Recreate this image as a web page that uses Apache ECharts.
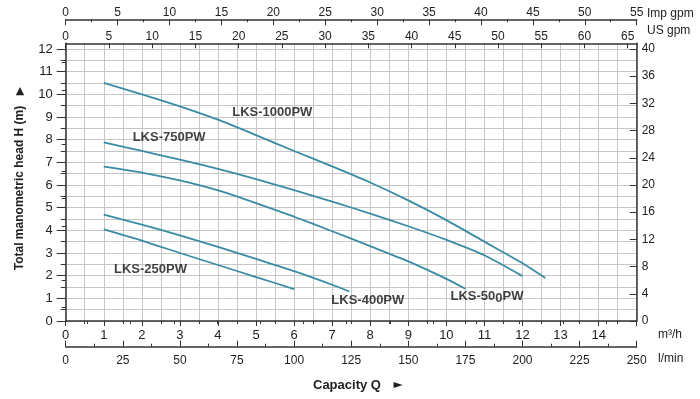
<!DOCTYPE html>
<html>
<head>
<meta charset="utf-8">
<script src="https://cdn.jsdelivr.net/npm/echarts@6/dist/echarts.min.js"></script>
<style>
html,body{margin:0;padding:0;background:#ffffff;}
#chart{width:700px;height:399px;}
</style>
</head>
<body>
<div id="chart"></div>
<script>
// ---- data (flow Q in m3/h, head H in m) ----
const q1000 = [1, 2, 3, 4, 5, 6, 7, 8, 9, 10, 11, 12, 12.6];
const h1000 = [10.5, 10.0, 9.47, 8.88, 8.2, 7.5, 6.82, 6.11, 5.32, 4.45, 3.5, 2.55, 1.9];
const q750 = [1, 2, 3, 4, 5, 6, 7, 8, 9, 10, 11, 12];
const h750 = [7.88, 7.5, 7.12, 6.71, 6.26, 5.77, 5.27, 4.74, 4.18, 3.58, 2.9, 1.98];
const q500 = [1, 2, 3, 4, 5, 6, 7, 8, 9, 10, 10.5];
const h500 = [6.81, 6.55, 6.2, 5.76, 5.2, 4.6, 3.96, 3.3, 2.63, 1.86, 1.42];
const q400 = [1, 2, 3, 4, 5, 6, 7, 7.45];
const h400 = [4.69, 4.25, 3.78, 3.27, 2.74, 2.2, 1.6, 1.3];
const q250 = [1, 2, 3, 4, 5, 6];
const h250 = [4.04, 3.55, 3.0, 2.47, 1.94, 1.41];

const curveNames = ['LKS-1000PW', 'LKS-750PW', 'LKS-500PW', 'LKS-400PW', 'LKS-250PW'];
// label anchors in data coordinates (m3/h, m)
const labelQ = [5.44, 2.73, 11.08, 7.95, 2.24];
const labelH = [9.18, 8.09, 1.0, 0.9, 2.25];

// axis tick labels
const headTicks = [0,1,2,3,4,5,6,7,8,9,10,11,12];
const headMinor = [0.5,1.5,2.5,3.5,4.5,5.5,6.5,7.5,8.5,9.5,10.5,11.5];
const feetTicks = [0,4,8,12,16,20,24,28,32,36,40];
const feetMinor = [2,6,10,14,18,22,26,30,34,38];
const usTicks = [0,5,10,15,20,25,30,35,40,45,50,55,60,65];
const usMinor = [2.5,7.5,12.5,17.5,22.5,27.5,32.5,37.5,42.5,47.5,52.5,57.5,62.5];

const FONT = 'Liberation Sans, Arial, sans-serif';
const LINE = '#3a8ca6';
const GRID = '#c6c6c6';
const AX = '#333333';
const TXT = '#222222';
const LBL = '#111111';

const pairs = (q, h) => q.map((x, i) => [x, h[i]]);
const curves = [[q1000,h1000],[q750,h750],[q500,h500],[q400,h400],[q250,h250]];

const chart = echarts.init(document.getElementById('chart'), null, {renderer:'canvas'});

const axLine = {show:true, onZero:false, lineStyle:{color:AX, width:1.5}};

const option = {
  backgroundColor:'#ffffff',
  animation:false,
  grid:{left:65.7, right:63.3, top:43.3, bottom:78},
  xAxis:[
    { // m3/h
      type:'value', position:'bottom', min:0, max:15, interval:1,
      axisLine:axLine,
      axisTick:{show:true, length:5, lineStyle:{color:AX}},
      minorTick:{show:true, splitNumber:2, length:3, lineStyle:{color:AX}},
      axisLabel:{margin:8, fontSize:13, color:TXT, fontFamily:FONT, showMaxLabel:false},
      splitLine:{show:true, lineStyle:{color:GRID, width:1}},
      minorSplitLine:{show:true, lineStyle:{color:GRID, width:1}}
    },
    { // l/min
      type:'value', position:'bottom', offset:25.7, min:0, max:250, interval:25,
      axisLine:axLine,
      axisTick:{show:true, inside:true, length:6, lineStyle:{color:AX}},
      minorTick:{show:true, splitNumber:2, length:3, lineStyle:{color:AX}},
      axisLabel:{margin:8, fontSize:12, color:TXT, fontFamily:FONT},
      splitLine:{show:false}
    },
    { // US gpm
      type:'value', position:'top', min:0, max:66.04, interval:5,
      axisLine:axLine,
      axisTick:{show:true, inside:true, length:5, customValues:usTicks, lineStyle:{color:AX}},
      axisLabel:{margin:1, fontSize:12, color:TXT, fontFamily:FONT, customValues:usTicks},
      splitLine:{show:false}
    },
    { // US gpm minor ticks
      type:'value', position:'top', min:0, max:66.04,
      axisLine:{show:false},
      axisTick:{show:true, inside:true, length:3, customValues:usMinor, lineStyle:{color:AX}},
      axisLabel:{show:false},
      splitLine:{show:false}
    },
    { // Imp gpm
      type:'value', position:'top', offset:24, min:0, max:55, interval:5,
      axisLine:axLine,
      axisTick:{show:true, inside:true, length:6, lineStyle:{color:AX}},
      minorTick:{show:true, splitNumber:2, length:3, lineStyle:{color:AX}},
      axisLabel:{margin:1, fontSize:12, color:TXT, fontFamily:FONT},
      splitLine:{show:false}
    }
  ],
  yAxis:[
    { // head m
      type:'value', position:'left', min:0, max:12.25, interval:1,
      axisLine:axLine,
      axisTick:{show:true, length:9, customValues:headTicks, lineStyle:{color:AX}},
      axisLabel:{margin:13, fontSize:13, color:TXT, fontFamily:FONT, customValues:headTicks},
      splitLine:{show:true, lineStyle:{color:GRID, width:1}}
    },
    { // head minor ticks + half gridlines
      type:'value', position:'left', min:0, max:12.25,
      axisLine:{show:false},
      axisTick:{show:true, length:5, customValues:headMinor, lineStyle:{color:AX}},
      axisLabel:{show:false},
      splitLine:{show:true, lineStyle:{color:GRID, width:1}}
    },
    { // feet
      type:'value', position:'right', min:0, max:40*12.25/12, interval:4,
      axisLine:axLine,
      axisTick:{show:true, inside:true, length:7, customValues:feetTicks, lineStyle:{color:AX}},
      axisLabel:{margin:5, fontSize:12, color:TXT, fontFamily:FONT, customValues:feetTicks},
      splitLine:{show:false}
    },
    { // feet minor
      type:'value', position:'right', min:0, max:40*12.25/12,
      axisLine:{show:false},
      axisTick:{show:true, inside:true, length:4, customValues:feetMinor, lineStyle:{color:AX}},
      axisLabel:{show:false},
      splitLine:{show:false}
    }
  ],
  series: curves.map((c, i) => ({
    name: curveNames[i], type:'line', xAxisIndex:0, yAxisIndex:0,
    data: pairs(c[0], c[1]), showSymbol:false, smooth:0.2,
    lineStyle:{color:LINE, width:1.8}, z:3
  })).concat([{
    type:'scatter', xAxisIndex:0, yAxisIndex:0, symbolSize:1, silent:true,
    itemStyle:{color:'rgba(255,255,255,0)'},
    emphasis:{disabled:true},
    data: curveNames.map((n, i) => ({name:n, value:[labelQ[i], labelH[i]]})),
    label:{
      show:true, position:[0,0], align:'center', verticalAlign:'middle',
      color:LBL, textBorderWidth:0, fontFamily:FONT, fontWeight:'bold', fontSize:13,
      formatter: p => p.name === 'LKS-500PW' ? '{a|LKS-50}{s|0}{a|PW}' : p.name,
      rich:{
        a:{fontFamily:FONT, fontWeight:'bold', fontSize:13, color:LBL, verticalAlign:'top', lineHeight:15},
        s:{fontFamily:FONT, fontWeight:'bold', fontSize:13, color:LBL, verticalAlign:'bottom', lineHeight:15, padding:[5,0,0,0]}
      }
    },
    z:4
  }]),
  graphic:[
    {type:'text', x:647, y:14, style:{text:'Imp gpm', fill:TXT, font:'12px '+FONT, textVerticalAlign:'middle'}},
    {type:'text', x:647, y:31, style:{text:'US gpm', fill:TXT, font:'12px '+FONT, textVerticalAlign:'middle'}},
    {type:'text', x:658, y:335, style:{text:'m³/h', fill:TXT, font:'12px '+FONT, textVerticalAlign:'middle'}},
    {type:'text', x:658, y:359, style:{text:'l/min', fill:TXT, font:'12px '+FONT, textVerticalAlign:'middle'}},
    {type:'text', x:313, y:385, style:{text:'Capacity Q', fill:TXT, font:'bold 13px '+FONT, textVerticalAlign:'middle'}},
    {type:'text', x:398, y:385, style:{text:'►', fill:TXT, font:'12px DejaVu Sans', textAlign:'center', textVerticalAlign:'middle'}},
    {type:'text', x:20, y:188, rotation:Math.PI/2, style:{text:'Total manometric head H (m)', fill:TXT, font:'bold 12px '+FONT, textAlign:'center', textVerticalAlign:'middle'}},
    {type:'text', x:20, y:91, style:{text:'▲', fill:TXT, font:'11px DejaVu Sans', textAlign:'center', textVerticalAlign:'middle'}}
  ]
};
chart.setOption(option);
</script>
</body>
</html>
